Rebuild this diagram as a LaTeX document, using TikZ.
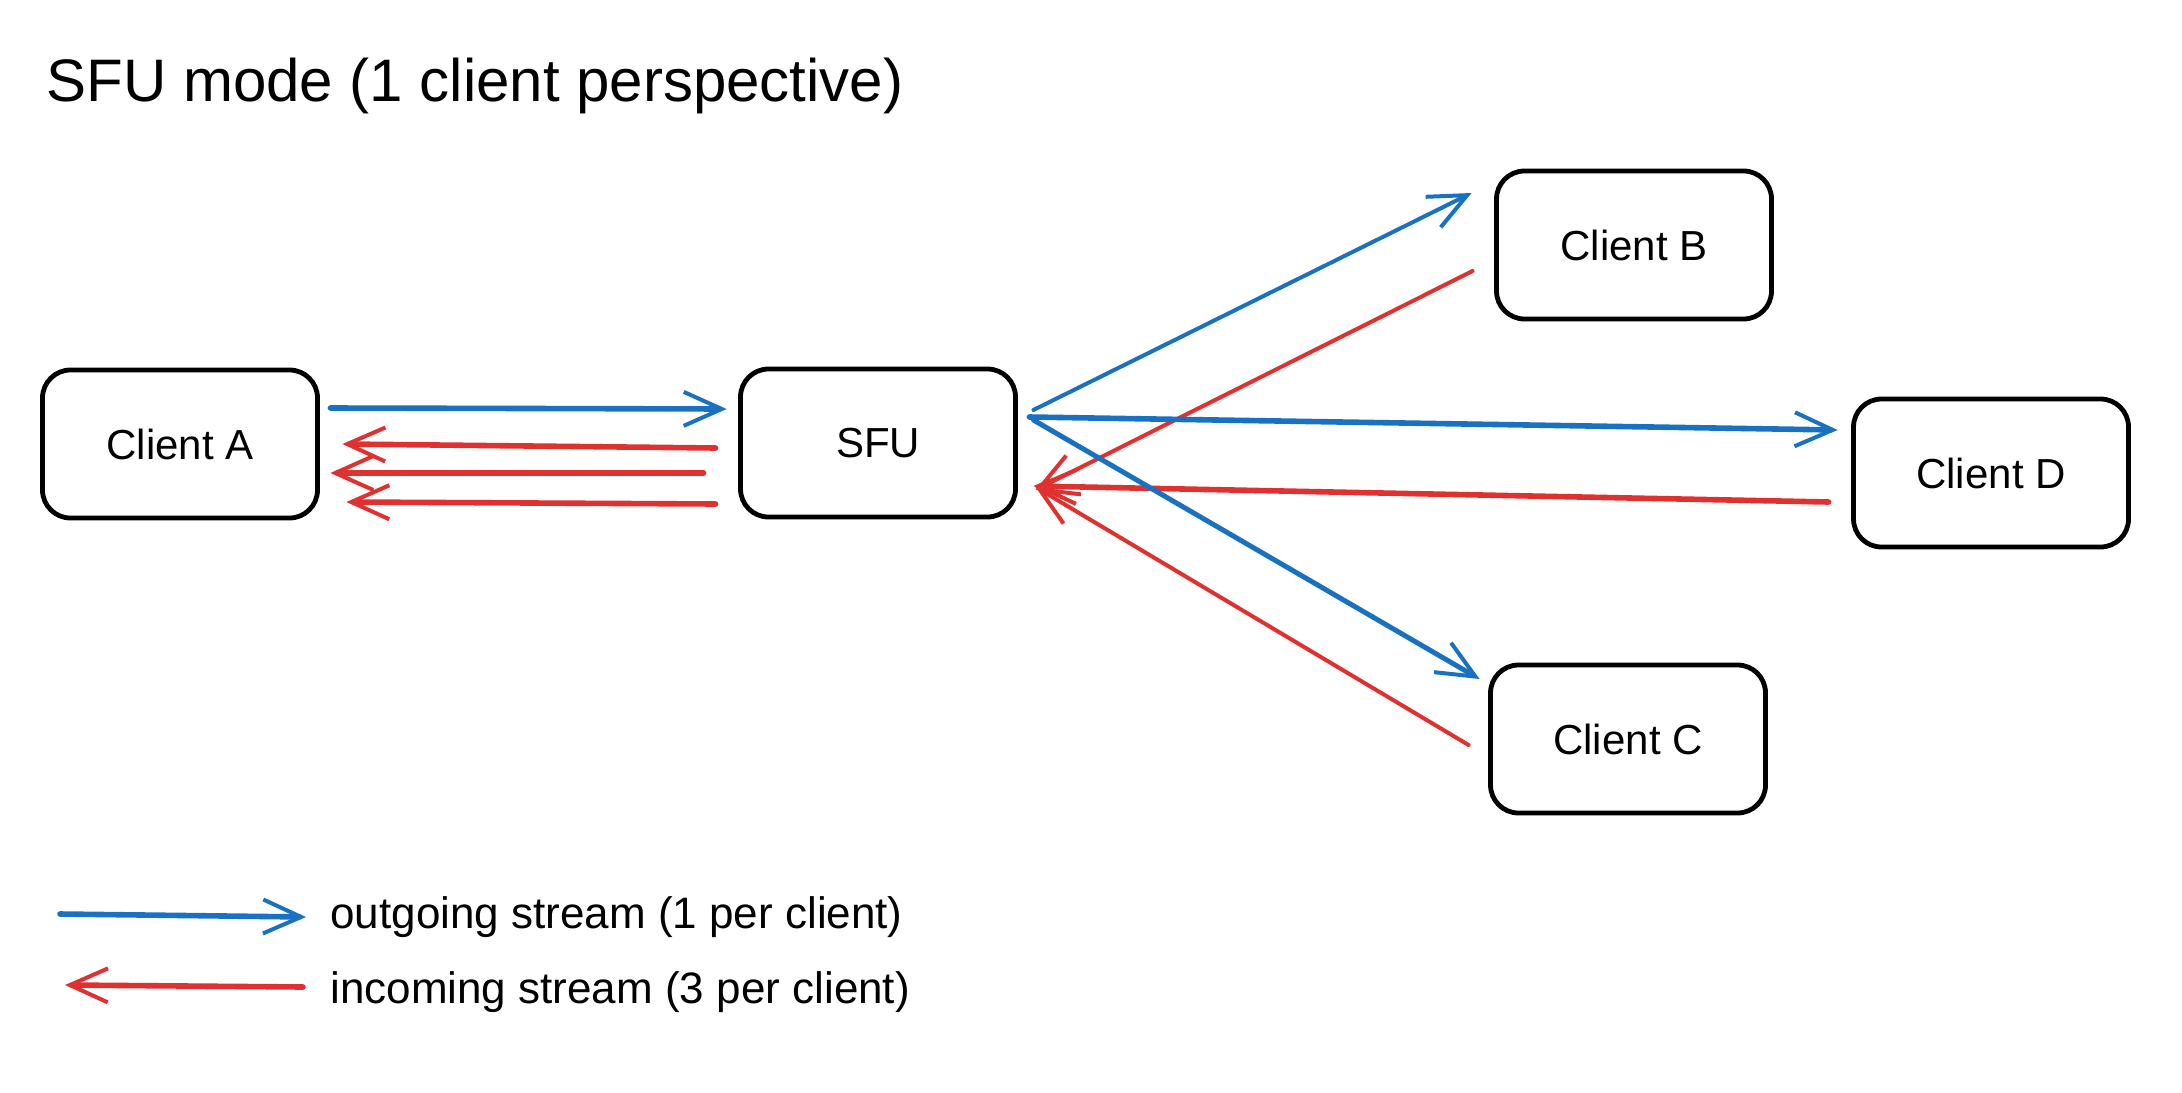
\documentclass[tikz,border=0pt]{standalone}
\usepackage{fontspec}
\setmainfont{Liberation Sans}
\usetikzlibrary{positioning,arrows.meta}
\definecolor{sentblue}{HTML}{1971C2}
\definecolor{recvred}{HTML}{E03131}

\begin{document}
\begin{tikzpicture}[x=0.5pt,y=-0.5pt,
cl/.style={draw,rounded corners=14pt,line width=2.4pt,minimum width=137.5pt,
minimum height=74pt,inner sep=0pt,text=black,font=\fontsize{21}{25}\selectfont},
sent/.style={draw=sentblue,line width=2.8pt,line cap=round,
-{Straight Barb[length=19pt,width=17pt,line width=2pt]}},
recv/.style={draw=recvred,line width=2.8pt,line cap=round,
-{Straight Barb[length=19pt,width=17pt,line width=2pt]}},
key/.style={anchor=west,inner sep=0pt,font=\fontsize{22}{26}\selectfont}]
\useasboundingbox (0,0) rectangle (2182,1092);
\node[anchor=west,inner sep=0pt,font=\fontsize{30}{36}\selectfont] (title) at (46,86)
  {SFU mode (1 client perspective)};
\node[cl] (A) at (180,444) {Client A};
\node[cl] (sfu) at (878,443) {SFU};
\node[cl] (B) at (1634,245) {Client B};
\node[cl] (D) at (1991,473) {Client D};
\node[cl] (C) at (1628,739) {Client C};
% client A <-> SFU
\draw[sent] ([shift={(10.5,-36)}]A.east) -- ([shift={(-11.5,-34)}]sfu.west);
\draw[recv] ([shift={(-22.5,5)}]sfu.west) -- ([shift={(22.5,0)}]A.east);
\draw[recv] ([shift={(-34.5,30)}]sfu.west) -- ([shift={(10.5,29)}]A.east);
\draw[recv] ([shift={(-22.5,61)}]sfu.west) -- ([shift={(26.5,58)}]A.east);
% SFU <-> other clients
\draw[sent,line width=2pt] ([shift={(15.5,-33)}]sfu.east) -- ([shift={(-22.5,-52)}]B.west);
\draw[recv,line width=2pt] ([shift={(-21.5,26)}]B.west) -- ([shift={(17.5,47)}]sfu.east);
\draw[sent] ([shift={(11.5,-26)}]sfu.east) -- ([shift={(-13.5,-43)}]D.west);
\draw[recv] ([shift={(-22.5,29)}]D.west) -- ([shift={(15.5,43)}]sfu.east);
\draw[sent,line width=2.5pt] ([shift={(15.5,-23)}]sfu.east) -- ([shift={(-8.5,-60)}]C.west);
\draw[recv,line width=2pt] ([shift={(-19.5,6)}]C.west) -- ([shift={(17.5,44)}]sfu.east);
% legend
\node[key] (kout) at (330,917) {outgoing stream (1 per client)};
\node[key] (kin) at (330,992) {incoming stream (3 per client)};
\coordinate (lout) at (60,914);
\coordinate (lin) at (303,987);
\draw[sent] (lout) -- ([xshift=-12pt]kout.west);
\draw[recv] (lin) -- ([shift={(-265,-7)}]kin.west);
\end{tikzpicture}
\end{document}
